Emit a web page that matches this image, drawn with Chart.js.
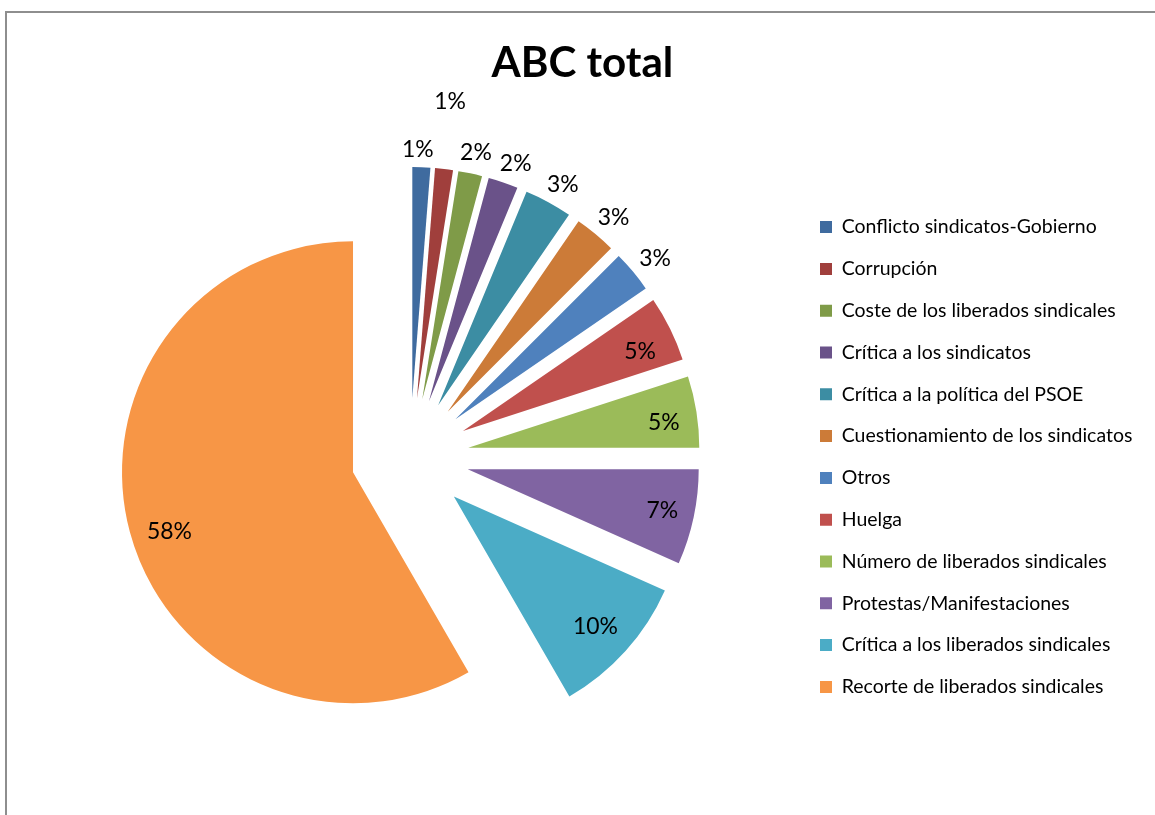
<!DOCTYPE html>
<html><head><meta charset="utf-8">
<script src="https://cdn.jsdelivr.net/npm/chart.js@4.4.1/dist/chart.umd.min.js"></script>
<style>
html,body{margin:0;padding:0;background:#fff;overflow:hidden}
#wrap{position:relative;width:1155px;height:815px}
#frame{position:absolute;left:5px;top:11px;width:1200px;height:900px;border-top:2px solid #8e8e8e;border-left:2px solid #8e8e8e;box-sizing:border-box}
canvas{position:absolute;left:0;top:0}
</style></head><body>
<div id="wrap"><div id="frame"></div><canvas id="c" width="1155" height="815"></canvas></div>
<script>
// ---- data ----
const chartTitle = 'ABC total';
const categories = [
  'Conflicto sindicatos-Gobierno',
  'Corrupción',
  'Coste de los liberados sindicales',
  'Crítica a los sindicatos',
  'Crítica a la política del PSOE',
  'Cuestionamiento de los sindicatos',
  'Otros',
  'Huelga',
  'Número de liberados sindicales',
  'Protestas/Manifestaciones',
  'Crítica a los liberados sindicales',
  'Recorte de liberados sindicales'
];
const counts = [3, 3, 4, 5, 8, 7, 7, 11, 12, 16, 24, 140];

// ---- style ----
const colors = ['#3F6B9F','#A03F3C','#7F9B48','#6A5289','#3C8DA3','#CC7B38',
                '#4F81BD','#C0504D','#9BBB59','#8064A2','#4BACC6','#F79646'];
const FAMILY = 'Lato, "Open Sans", sans-serif';
const EXPLODE = 59;
const RADIUS = 231;
const labelRadius = [249, 299, 252, 253, 253, 255, 256, 194, 197, 199, 192, 193];
const labelTurn   = [-1, -0.4, 0.3, 1.3, 1, 0.8, 1, 2.2, 1.8, 0, 0.5, -3];

const mctx = document.createElement('canvas').getContext('2d');
function fitFont(text, weight, target) {
  mctx.font = weight + ' 100px ' + FAMILY;
  return 100 * target / mctx.measureText(text).width;
}
const fsT = fitFont(chartTitle, 'bold', 182);
const fsL = fitFont(categories[0], 'normal', 255);
const fsP = fitFont('58%', 'normal', 45);

// layout computation
const pitch = 41.8;
const legPad = pitch - fsL;
const boxW = 12;
const boxX = 820;
const legendLeft = boxX - legPad;
mctx.font = 'normal ' + fsL + 'px ' + FAMILY;
const maxTextW = Math.max(...categories.map(t => mctx.measureText(t).width));
const legendWidth = legPad + boxW + fsL / 2 + maxTextW + 10;
const padR = 1155 - legendLeft - legendWidth;
const centerX = 410, centerY = 457;
const padL = 2 * centerX - legendLeft;
const lhT = fsT * 1.2;
const titlePadTop = 63 - lhT / 2;
const chartTop = 110;
const titlePadBottom = chartTop - titlePadTop - lhT;
const padB = 815 - (2 * centerY - chartTop);

const explodePlugin = {
  id: 'explodeAndLabels',
  beforeDatasetDraw(chart, args) {
    const ctx = chart.ctx;
    args.meta.data.forEach((arc) => {
      const mid = (arc.startAngle + arc.endAngle) / 2;
      ctx.save();
      ctx.translate(Math.cos(mid) * EXPLODE, Math.sin(mid) * EXPLODE);
      arc.draw(ctx);
      ctx.restore();
    });
    return false;
  },
  afterDatasetsDraw(chart) {
    const ctx = chart.ctx;
    const meta = chart.getDatasetMeta(0);
    const total = counts.reduce((a, b) => a + b, 0);
    ctx.save();
    ctx.font = 'normal ' + fsP + 'px ' + FAMILY;
    ctx.fillStyle = '#000';
    ctx.textAlign = 'center';
    ctx.textBaseline = 'middle';
    meta.data.forEach((arc, i) => {
      const mid = (arc.startAngle + arc.endAngle) / 2;
      const vx = arc.x + Math.cos(mid) * EXPLODE;
      const vy = arc.y + Math.sin(mid) * EXPLODE;
      const a = mid + labelTurn[i] * Math.PI / 180;
      const r = labelRadius[i];
      ctx.fillText(Math.round(counts[i] / total * 100) + '%', vx + Math.cos(a) * r, vy + Math.sin(a) * r);
    });
    ctx.restore();
  }
};

new Chart(document.getElementById('c'), {
  type: 'pie',
  data: {
    labels: categories,
    datasets: [{
      data: counts,
      backgroundColor: colors,
      borderWidth: 0,
      radius: RADIUS
    }]
  },
  options: {
    responsive: false,
    animation: false,
    events: [],
    layout: { padding: { left: padL, right: padR, top: 0, bottom: padB } },
    plugins: {
      tooltip: { enabled: false },
      title: {
        display: true,
        text: chartTitle,
        color: '#000',
        font: { family: FAMILY, size: fsT, weight: 'bold', lineHeight: 1.2 },
        padding: { top: titlePadTop, bottom: titlePadBottom }
      },
      legend: {
        display: true,
        position: 'right',
        fullSize: false,
        align: 'center',
        labels: {
          boxWidth: boxW,
          boxHeight: boxW,
          padding: legPad,
          color: '#000',
          font: { family: FAMILY, size: fsL }
        }
      }
    }
  },
  plugins: [explodePlugin]
});
</script>
</body></html>
